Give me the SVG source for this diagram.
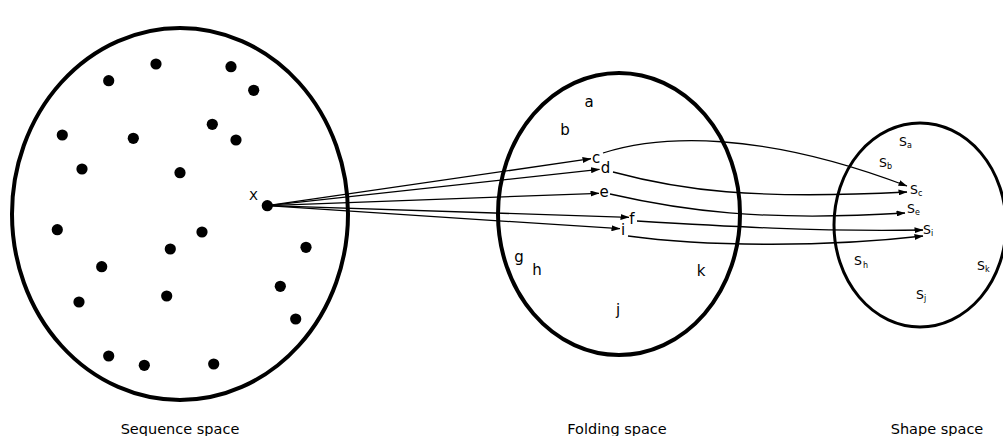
<svg xmlns="http://www.w3.org/2000/svg" width="1003" height="436" viewBox="0 0 1003 436">
<style>
.sp{fill:none;stroke:#000}
.dot{fill:#000}
.lbl{font-family:"DejaVu Sans",sans-serif;font-size:15px;fill:#000;text-anchor:middle}
.s{font-family:"DejaVu Sans",sans-serif;font-size:12.5px;fill:#000}
.sub{font-size:8px}
.cap{font-family:"DejaVu Sans",sans-serif;font-size:14.5px;fill:#000;text-anchor:middle}
.con{fill:none;stroke:#000;stroke-width:1.3}
</style>
<defs>
<marker id="ah" markerWidth="9" markerHeight="6" refX="8.5" refY="3" orient="auto" markerUnits="userSpaceOnUse">
<path d="M0,0 L9,3 L0,6 z" fill="#000"/>
</marker>
</defs>
<rect width="1003" height="436" fill="#fff"/>
<g id="sequence-space">
<ellipse class="sp" cx="180" cy="214" rx="168" ry="186" stroke-width="4"/>
<g class="dot">
<circle cx="108.7" cy="80.7" r="5.6"/>
<circle cx="156" cy="64" r="5.6"/>
<circle cx="231" cy="66.7" r="5.6"/>
<circle cx="253.7" cy="90.3" r="5.6"/>
<circle cx="62.3" cy="135" r="5.6"/>
<circle cx="133.3" cy="138.3" r="5.6"/>
<circle cx="212.3" cy="124.3" r="5.6"/>
<circle cx="236" cy="140" r="5.6"/>
<circle cx="82" cy="169" r="5.6"/>
<circle cx="180" cy="172.7" r="5.6"/>
<circle cx="57.3" cy="229.7" r="5.6"/>
<circle cx="202" cy="232" r="5.6"/>
<circle cx="170.3" cy="249" r="5.6"/>
<circle cx="306" cy="247.3" r="5.6"/>
<circle cx="101.7" cy="266.7" r="5.6"/>
<circle cx="280.3" cy="286.3" r="5.6"/>
<circle cx="79" cy="302" r="5.6"/>
<circle cx="166.7" cy="296" r="5.6"/>
<circle cx="295.7" cy="319" r="5.6"/>
<circle cx="108.7" cy="356" r="5.6"/>
<circle cx="144.3" cy="365.3" r="5.6"/>
<circle cx="213.7" cy="364" r="5.6"/>
</g>
<text class="cap" x="180" y="434">Sequence space</text>
</g>
<g id="x-node">
<circle class="dot" cx="267.3" cy="205.7" r="5.6"/>
<text class="lbl" x="253.5" y="200" style="font-size:13px">X</text>
</g>
<g id="folding-space">
<ellipse class="sp" cx="619" cy="214" rx="121" ry="141" stroke-width="4"/>
<text class="lbl" x="589" y="107">a</text>
<text class="lbl" x="565" y="135">b</text>
<text class="lbl" x="596" y="163">c</text>
<text class="lbl" x="605.5" y="173">d</text>
<text class="lbl" x="604" y="197">e</text>
<text class="lbl" x="632" y="224">f</text>
<text class="lbl" x="623" y="235">i</text>
<text class="lbl" x="519" y="262">g</text>
<text class="lbl" x="537" y="275">h</text>
<text class="lbl" x="701" y="276">k</text>
<text class="lbl" x="618" y="315">j</text>
<text class="cap" x="617" y="434">Folding space</text>
</g>
<g id="shape-space">
<ellipse class="sp" cx="920" cy="225" rx="86" ry="102" stroke-width="3"/>
<text class="s" x="899" y="146">S<tspan class="sub" dy="2">a</tspan></text>
<text class="s" x="879" y="167">S<tspan class="sub" dy="2">b</tspan></text>
<text class="s" x="910" y="194">S<tspan class="sub" dy="2">c</tspan></text>
<text class="s" x="907" y="213">S<tspan class="sub" dy="2">e</tspan></text>
<text class="s" x="923" y="234">S<tspan class="sub" dy="2">i</tspan></text>
<text class="s" x="854" y="265">S<tspan class="sub" dy="3" dx="1">h</tspan></text>
<text class="s" x="977" y="270">S<tspan class="sub" dy="2">k</tspan></text>
<text class="s" x="916" y="299">S<tspan class="sub" dy="2">j</tspan></text>
<text class="cap" x="937" y="434">Shape space</text>
</g>
<g id="connectors">
<line class="con" x1="267.3" y1="205.7" x2="591" y2="158.7" marker-end="url(#ah)"/>
<line class="con" x1="267.3" y1="205.7" x2="599.5" y2="169.3" marker-end="url(#ah)"/>
<line class="con" x1="267.3" y1="205.7" x2="599" y2="193.3" marker-end="url(#ah)"/>
<line class="con" x1="267.3" y1="205.7" x2="629" y2="217.3" marker-end="url(#ah)"/>
<line class="con" x1="267.3" y1="205.7" x2="620" y2="228.7" marker-end="url(#ah)"/>
<path class="con" d="M603,153 C660,135 760,130 907,186" marker-end="url(#ah)"/>
<path class="con" d="M613,172 C680,190 750,200 907,192" marker-end="url(#ah)"/>
<path class="con" d="M610,194 C680,210 760,222 905,213" marker-end="url(#ah)"/>
<path class="con" d="M637,221 C720,226 820,232 923,230" marker-end="url(#ah)"/>
<path class="con" d="M628,236 C700,246 820,248 923,236" marker-end="url(#ah)"/>
</g>
</svg>
